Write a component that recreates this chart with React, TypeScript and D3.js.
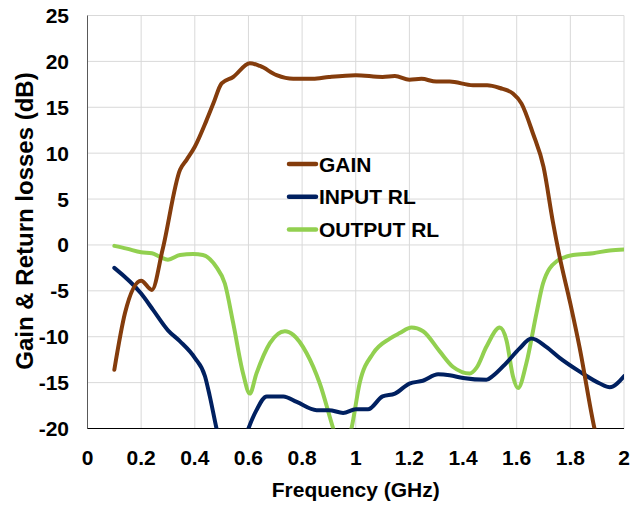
import React from "react";
import * as d3 from "d3";

const xTicks = [0, 0.2, 0.4, 0.6, 0.8, 1, 1.2, 1.4, 1.6, 1.8, 2];
const yTicks = [25, 20, 15, 10, 5, 0, -5, -10, -15, -20];

const gainF = [0.1, 0.14, 0.2, 0.24, 0.28, 0.345, 0.37, 0.4, 0.444, 0.469, 0.5, 0.543, 0.605, 0.643, 0.705, 0.767, 0.84, 0.9, 1.0, 1.1, 1.146, 1.2, 1.245, 1.3, 1.35, 1.437, 1.49, 1.537, 1.586, 1.618, 1.66, 1.7, 1.735, 1.758, 1.8, 1.834, 1.89, 1.91];
const gainV = [-13.6, -7.4, -3.9, -4.9, -0.5, 8.2, 9.3, 10.7, 13.6, 15.4, 17.6, 18.3, 19.8, 19.5, 18.5, 18.1, 18.1, 18.3, 18.5, 18.3, 18.4, 18.0, 18.1, 17.8, 17.8, 17.4, 17.4, 17.1, 16.5, 15.4, 12.2, 8.5, 2.5, -1.0, -6.4, -11.1, -20, -22.5];

const inF = [0.1, 0.2, 0.245, 0.3, 0.345, 0.4, 0.438, 0.456, 0.481, 0.54, 0.6, 0.63, 0.668, 0.73, 0.78, 0.854, 0.9, 0.953, 1.0, 1.046, 1.1, 1.146, 1.2, 1.25, 1.307, 1.35, 1.4, 1.487, 1.51, 1.56, 1.61, 1.655, 1.71, 1.76, 1.835, 1.91, 1.947, 2.0];
const inV = [-2.5, -5.3, -7.1, -9.3, -10.5, -12.3, -14.3, -16.5, -20, -26, -20, -18, -16.5, -16.5, -17.1, -18.0, -18.0, -18.3, -17.9, -17.9, -16.5, -16.2, -15.1, -14.8, -14.1, -14.2, -14.5, -14.7, -14.3, -12.9, -11.3, -10.2, -11.1, -12.3, -13.8, -15.1, -15.5, -14.3];

const outF = [0.1, 0.146, 0.2, 0.24, 0.27, 0.3, 0.345, 0.394, 0.43, 0.48, 0.512, 0.543, 0.58, 0.605, 0.63, 0.68, 0.736, 0.767, 0.817, 0.866, 0.916, 0.95, 0.984, 1.015, 1.065, 1.127, 1.164, 1.208, 1.251, 1.313, 1.363, 1.425, 1.45, 1.487, 1.537, 1.562, 1.586, 1.605, 1.636, 1.674, 1.698, 1.748, 1.81, 1.885, 1.947, 2.0];
const outV = [-0.1, -0.4, -0.8, -0.9, -1.3, -1.6, -1.1, -1.0, -1.1, -2.4, -4.2, -8.5, -14, -16.2, -14, -10.7, -9.4, -9.8, -11.8, -15.1, -20, -23, -20, -15.0, -11.8, -10.2, -9.6, -9.0, -9.4, -11.6, -13.3, -14.0, -13.4, -11.1, -9.0, -10.4, -14.3, -15.6, -12.9, -7.4, -4.2, -1.8, -1.1, -0.9, -0.6, -0.5];

const seriesNames = ["GAIN", "INPUT RL", "OUTPUT RL"];
const seriesColors = ["#843C0C", "#002060", "#92D050"];

const W = 642, H = 506;
const L = 87.5, R = 624, T = 15.5, B = 428.5;
const FONT = "'Liberation Sans', Arial, sans-serif";

export default function App() {
  const x = d3.scaleLinear().domain([0, 2]).range([L, R]);
  const y = d3.scaleLinear().domain([-20, 25]).range([B, T]);
  const line = d3
    .line<[number, number]>()
    .x((d) => x(d[0]))
    .y((d) => y(d[1]))
    .curve(d3.curveMonotoneX);
  const series: [number, number][][] = [
    gainF.map((f, i) => [f, gainV[i]]),
    inF.map((f, i) => [f, inV[i]]),
    outF.map((f, i) => [f, outV[i]]),
  ];
  const drawOrder = [2, 1, 0];
  return (
    <svg width={W} height={H} style={{ position: "absolute", left: 0, top: 0 }} fontFamily={FONT}>
      <rect x={0} y={0} width={W} height={H} fill="#fff" />
      <defs>
        <clipPath id="plotclip">
          <rect x={L} y={T} width={R - L} height={B - T} />
        </clipPath>
      </defs>
      {xTicks.map((t) => (
        <line key={"gx" + t} x1={x(t)} x2={x(t)} y1={T} y2={B} stroke="#d9d9d9" strokeWidth={1} />
      ))}
      {yTicks.map((t) => (
        <line key={"gy" + t} x1={L} x2={R} y1={y(t)} y2={y(t)} stroke="#d9d9d9" strokeWidth={1} />
      ))}
      <line x1={L} x2={L} y1={T} y2={B} stroke="#595959" strokeWidth={1} />
      <line x1={L} x2={R} y1={B} y2={B} stroke="#000" strokeWidth={1.2} />
      <g clipPath="url(#plotclip)">
        {drawOrder.map((i) => (
          <path key={i} d={line(series[i]) || ""} fill="none" stroke={seriesColors[i]} strokeWidth={4} strokeLinejoin="round" strokeLinecap="round" />
        ))}
      </g>
      {yTicks.map((t) => (
        <text key={"yl" + t} x={69} y={y(t) + 7.5} textAnchor="end" fontSize={21} fontWeight="bold" fill="#000">
          {t}
        </text>
      ))}
      {xTicks.map((t) => (
        <text key={"xl" + t} x={x(t)} y={465} textAnchor="middle" fontSize={21} fontWeight="bold" fill="#000">
          {t}
        </text>
      ))}
      <text x={(L + R) / 2} y={497} textAnchor="middle" fontSize={21} fontWeight="bold" fill="#000">
        Frequency (GHz)
      </text>
      <text transform={`translate(32.5,221) rotate(-90)`} textAnchor="middle" fontSize={24} fontWeight="bold" fill="#000">
        Gain &amp; Return losses (dB)
      </text>
      {seriesNames.map((n, i) => {
        const cy = 164 + i * 32.7;
        return (
          <g key={n}>
            <line x1={289} x2={316} y1={cy} y2={cy} stroke={seriesColors[i]} strokeWidth={4.5} strokeLinecap="round" />
            <text x={319} y={cy + 7.5} fontSize={21} fontWeight="bold" fill="#000">
              {n}
            </text>
          </g>
        );
      })}
    </svg>
  );
}
